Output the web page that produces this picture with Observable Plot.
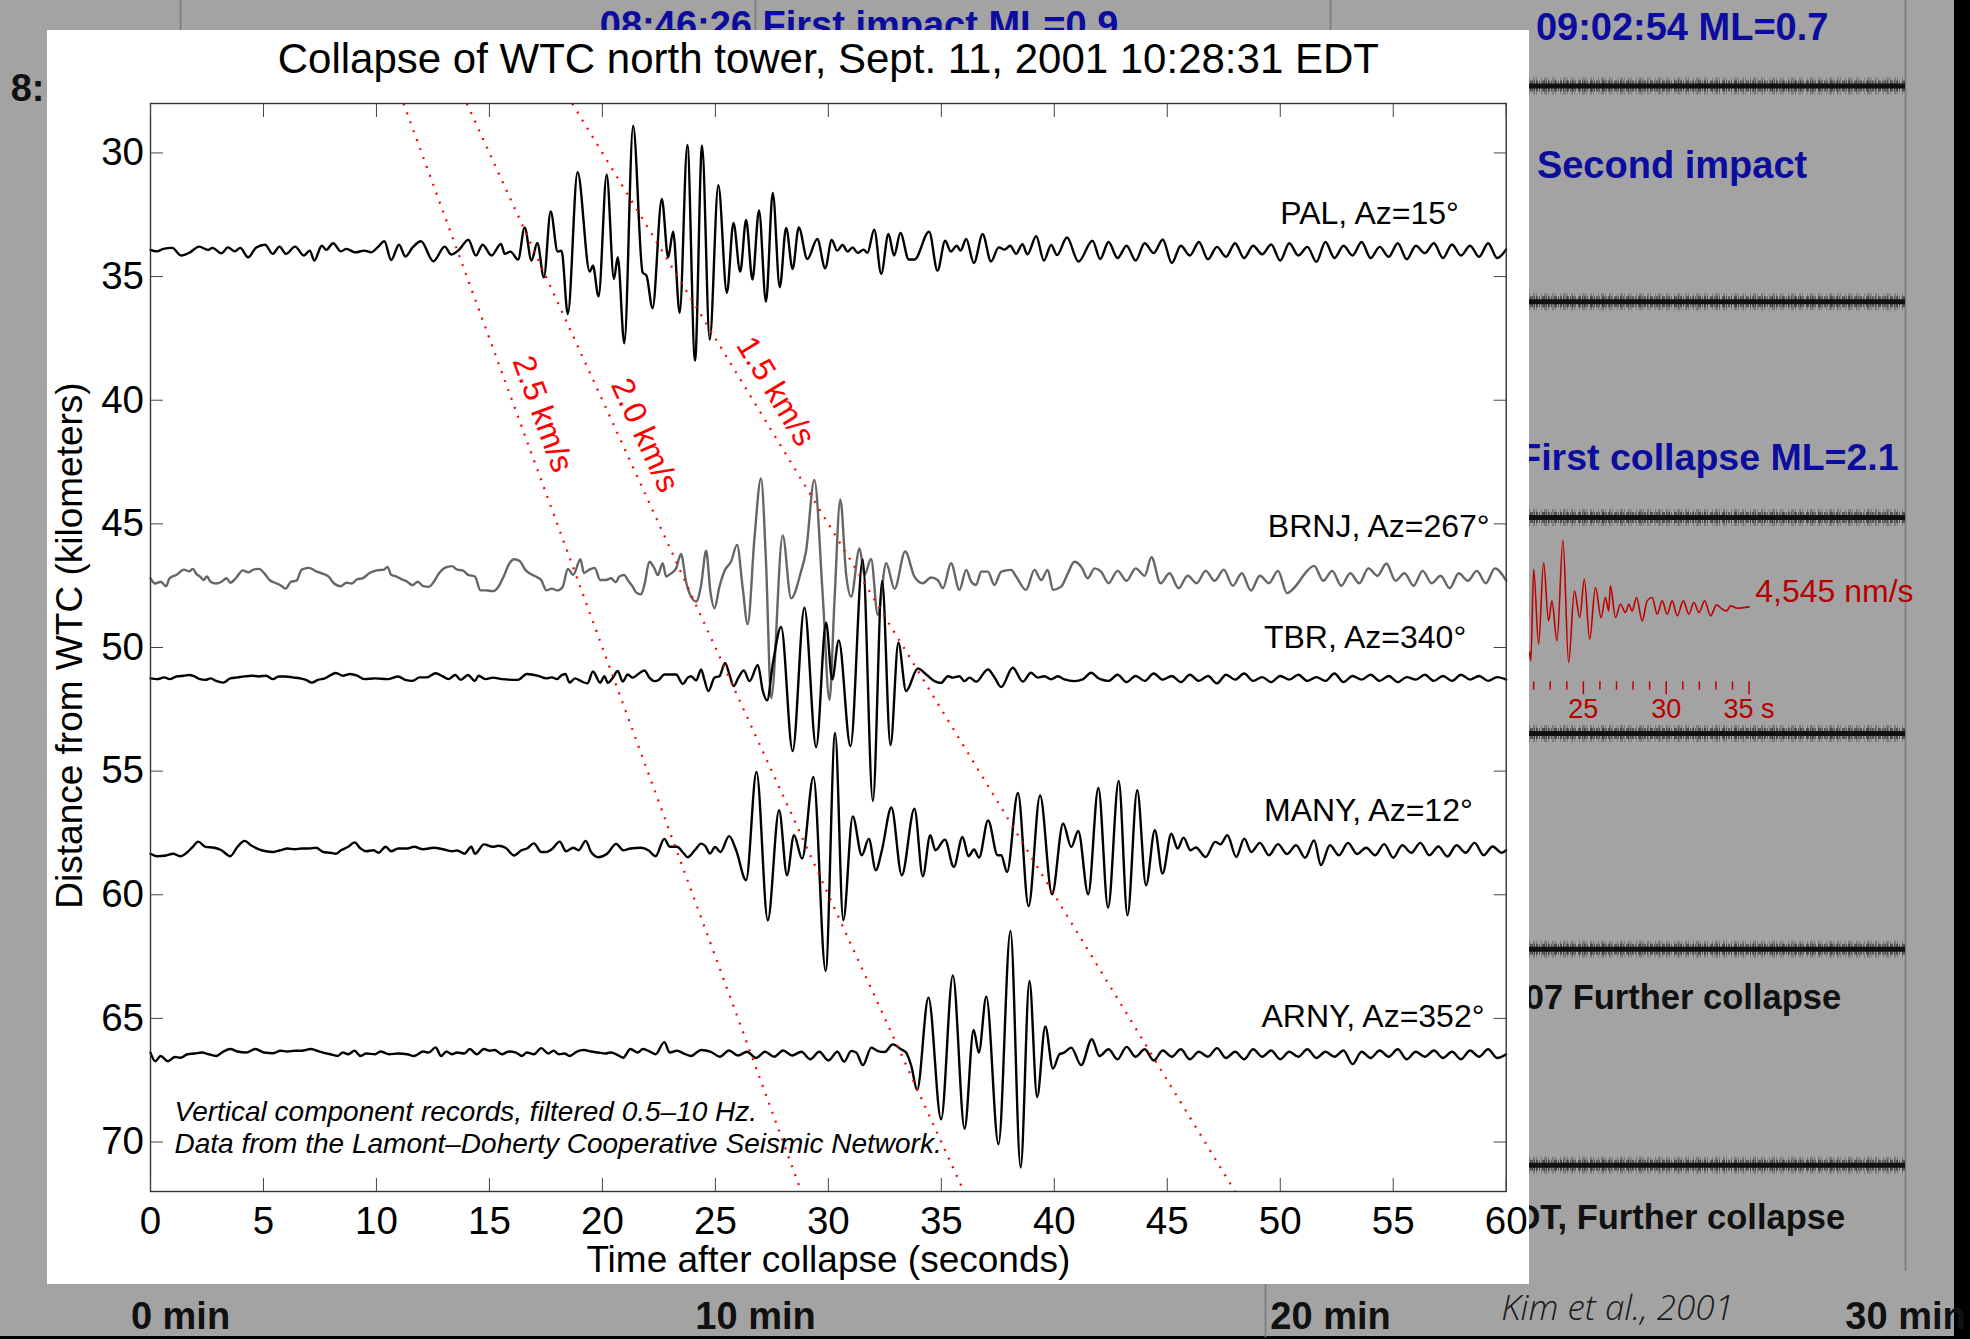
<!DOCTYPE html>
<html><head><meta charset="utf-8">
<script src="https://cdn.jsdelivr.net/npm/d3@7"></script>
<script src="https://cdn.jsdelivr.net/npm/@observablehq/plot@0.6"></script>
<style>
html,body{margin:0;padding:0;background:#000;}
#stage{position:relative;width:1970px;height:1339px;background:#000;overflow:hidden;}
#stage svg{position:absolute;display:block;}
</style></head><body><div id="stage"></div>
<script>
// ---------------- data ----------------
const stations = ["PAL", "BRNJ", "TBR", "MANY", "ARNY"];
const azimuths = [15, 267, 340, 12, 352];
const baseKm = [33.95, 47.2, 51.25, 58.2, 66.45];
const labelT = [50.0, 49.45, 49.28, 49.28, 49.17];
const labelKm = [32.44, 45.13, 49.6, 56.6, 64.93];

const velocities = [2.5, 2.0, 1.5];
const velDistRange = [28, 72];
const velLabelKm = [40.56, 41.42, 39.64];

const xTicks = [0, 5, 10, 15, 20, 25, 30, 35, 40, 45, 50, 55, 60];
const yTicks = [30, 35, 40, 45, 50, 55, 60, 65, 70];

const titleText = "Collapse of WTC north tower, Sept. 11, 2001 10:28:31 EDT";
const xLabel = "Time after collapse (seconds)";
const yLabel = "Distance from WTC (kilometers)";
const noteText = "Vertical component records, filtered 0.5\u201310 Hz.\nData from the Lamont\u2013Doherty Cooperative Seismic Network.";

// traces: [time s, amplitude km (up = toward smaller distance)]
const palTrace = [[0,0.03],[0.27,-0.03],[0.57,0.07],[0.96,0.11],[1.36,-0.2],[1.75,-0.07],[2.15,0.16],[2.54,0.03],[2.74,0.11],[3.14,-0.11],[3.43,0.13],[3.73,-0.03],[3.97,0.11],[4.32,-0.27],[4.68,0.13],[5.07,0.24],[5.41,-0.13],[5.71,0.16],[6.0,-0.13],[6.4,0.16],[6.79,-0.2],[7.05,0],[7.25,-0.4],[7.58,0.2],[7.78,0.03],[8.08,0.3],[8.43,-0.03],[8.67,0.07],[9.07,-0.07],[9.46,0],[9.76,-0.07],[10.05,0.13],[10.35,0.38],[10.65,-0.38],[11.0,0.24],[11.28,-0.24],[11.6,0.13],[11.97,0.38],[12.52,-0.43],[13.02,0.16],[13.31,-0.16],[13.65,0.03],[14.07,0.44],[14.4,-0.2],[14.7,0.24],[15.09,-0.2],
[15.51,0.27],[15.68,-0.13],[15.93,-0.04],[16.27,-0.36],[16.56,0.94],[16.86,-0.4],[17.12,0.31],[17.41,-1.08],[17.71,1.58],[18.02,-0.04],[18.19,0],[18.47,-2.56],[18.9,3.17],[19.44,-0.85],[19.58,-0.61],[19.83,-1.85],[20.19,3.07],[20.51,-1.15],[20.68,-0.27],[20.97,-3.75],[21.36,5.05],[21.78,-0.88],[21.95,-1.01],[22.22,-2.33],[22.63,2.09],[22.91,-0.27],[23.13,0.77],[23.42,-2.52],[23.76,4.27],[24.1,-4.45],[24.41,4.25],[24.75,-3.6],[25.13,2.65],[25.51,-1.71],[25.8,1.12],[26.1,-0.85],[26.36,1.24],[26.64,-1.17],[26.93,1.62],[27.24,-2.06],[27.54,2.33],[27.85,-1.48],[28.13,0.92],[28.42,-0.74],[28.69,0.94],[29.07,-0.34],[29.51,0.47],[29.86,-0.71],[30.15,0.43],[30.39,0],[30.63,0.23],[30.85,-0.04],[31.07,0.13],[31.3,-0.09],[31.56,0.04],[31.73,-0.09],[32.03,0.85],[32.34,-0.94],[32.66,0.67],[32.91,-0.2],[33.19,0.71],[33.56,-0.36],[33.81,-0.36],[34.46,0.77],[34.83,-0.81],[35.17,0.4],[35.42,-0.04],[35.68,0.2],[35.85,0],[36.1,0.47],[36.44,-0.5],[36.83,0.66],[37.2,-0.44],[37.54,0.13],[37.8,0.04],[38.05,0.2],[38.31,-0.13],[38.59,0.26],[38.81,-0.15],[39.2,0.58],[39.54,-0.4],[39.86,0.23],[40.12,-0.18],[40.56,0.53],[41.07,-0.44],[41.69,0.4],[42.03,-0.34],
[42.4,0.35],[42.8,-0.3],[43.2,0.2],[43.6,-0.4],[44.0,0.3],[44.4,-0.1],[44.8,0.45],[45.2,-0.5],[45.6,0.2],[46.0,-0.2],[46.4,0.35],[46.8,-0.35],[47.2,0.15],[47.6,-0.25],[48.0,0.3],[48.4,-0.3],[48.8,0.2],[49.2,-0.15],[49.6,0.25],[50.0,-0.4],[50.4,0.3],[50.8,-0.2],[51.2,0.15],[51.6,-0.45],[52.0,0.35],[52.4,-0.3],[52.8,0.2],[53.2,-0.2],[53.6,0.35],[54.0,-0.3],[54.4,0.15],[54.8,-0.25],[55.2,0.3],[55.6,-0.35],[56.0,0.2],[56.4,-0.1],[56.8,0.3],[57.2,-0.3],[57.6,0.25],[58.0,-0.2],[58.4,0.2],[58.8,-0.25],[59.2,0.3],[59.6,-0.3],[60,0.05]];

const brnjTrace = [[0,0],[0.21,-0.21],[0.45,-0.14],[0.69,-0.32],[0.84,0],[1.16,0.14],[1.48,0.35],[1.71,0.28],[1.87,0.38],[2.03,0.18],[2.19,0.07],[2.35,-0.07],[2.5,0.07],[2.66,-0.14],[2.9,-0.21],[3.14,-0.14],[3.37,0],[3.53,-0.18],[3.77,0],[4.09,0.32],[4.32,0.24],[4.56,0.35],[4.8,0.38],[5.03,0.21],[5.27,-0.07],[5.51,-0.18],[5.75,-0.28],[5.98,-0.42],[6.22,-0.14],[6.46,-0.1],[6.69,0.35],[7.01,0.42],[7.33,0.28],[7.64,0.18],[7.88,0.07],[8.12,-0.21],[8.43,-0.32],[8.67,-0.18],[8.91,-0.21],[9.15,-0.04],[9.38,0],[9.7,0.21],[10.01,0.32],[10.33,0.35],[10.49,0.46],[10.65,0.14],[10.88,0.07],[11.12,-0.04],[11.36,-0.14],[11.6,-0.28],[11.83,-0.14],[12.07,-0.32],[12.31,-0.35],[12.54,-0.14],[12.78,0.21],[13.02,0.42],[13.34,0.49],[13.57,0.35],[13.81,0.32],[14.05,0.14],[14.36,0.07],[14.6,-0.49],[14.84,-0.49],[15.15,-0.52],[15.39,-0.35],[15.63,0.07],[15.86,0.56],[16.1,0.77],[16.34,0.7],[16.58,0.35],[16.81,0.18],[17.05,0.07],[17.29,-0.07],[17.52,-0.49],[17.76,-0.42],[18.0,-0.49],[18.24,-0.35],[18.47,0.38],[18.71,0.14],[19.03,0.77],[19.18,0.21],[19.42,0.35],[19.66,0.42],[19.9,-0.07],
[20.16,-0.07],[20.38,0],[20.6,-0.16],[20.75,0.07],[20.97,0.13],[21.12,-0.07],[21.34,-0.34],[21.49,-0.57],[21.71,-0.65],[21.86,-0.27],[22.08,0.67],[22.3,0.4],[22.45,0.13],[22.67,0.61],[22.82,0.07],[23.04,0.2],[23.26,0.4],[23.48,0.98],[23.7,-0.13],[23.92,-0.74],[24.15,-0.94],[24.37,-0.27],[24.59,1.11],[24.78,-0.54],[24.96,-1.21],[25.18,-0.34],[25.43,0.34],[25.69,0.67],[25.96,1.35],[26.21,-0.4],[26.43,-1.86],[26.73,1.62],[27.02,4.04],[27.24,0.67],[27.47,-4.85],[27.98,1.73],[28.35,-0.81],[28.79,0.27],[29.01,1.08],[29.38,3.98],[29.75,-0.67],[30.05,-4.92],[30.27,-0.94],[30.53,3.19],[30.79,0.13],[31.01,-0.74],[31.38,1.21],[31.6,0.13],[31.89,0.78],[32.19,-1.48],[32.56,0.61],[32.93,-0.43],[33.4,1.08],[33.81,0.07],[34.18,-0.2],[34.55,0.03],[34.84,-0.07],[35.07,-0.4],[35.43,0.61],[35.8,-0.47],[36.1,0.34],[36.32,-0.13],[36.54,-0.27],[36.76,0.27],[37.06,0.27],[37.35,-0.27],[37.65,0.27],[38.09,0.34],[38.31,0.07],[38.75,-0.47],[39.12,0.34],[39.42,-0.07],[39.71,0.34],[39.94,-0.47],[40.3,-0.34],[40.6,0.2],[40.89,0.67],[41.19,0.47],[41.48,0],[41.78,0.4],[42.07,0.27],
[42.4,-0.2],[42.8,0.3],[43.2,-0.1],[43.6,0.4],[44.0,0.1],[44.3,0.85],[44.7,-0.2],[45.1,0.2],[45.5,-0.4],[45.9,0.1],[46.3,-0.2],[46.7,0.3],[47.1,-0.1],[47.5,0.35],[47.9,-0.3],[48.3,0.2],[48.7,-0.5],[49.1,0.1],[49.5,-0.2],[49.9,0.3],[50.3,-0.6],[50.7,-0.3],[51.1,0.2],[51.5,0.5],[51.9,-0.1],[52.3,0.3],[52.7,-0.3],[53.1,0.2],[53.5,-0.2],[53.9,0.4],[54.3,0.1],[54.7,0.6],[55.1,-0.1],[55.5,0.2],[55.9,-0.3],[56.3,0.3],[56.7,-0.2],[57.1,0.1],[57.5,-0.4],[57.9,0.2],[58.3,-0.1],[58.7,0.3],[59.1,-0.2],[59.5,0.4],[60,-0.1]];

const tbrTrace = [[0,0],[0.29,-0.03],[0.61,0.04],[0.84,-0.03],[1.16,0.08],[1.48,0.11],[1.71,0.14],[1.95,0.08],[2.19,-0.03],[2.43,-0.06],[2.66,0],[2.9,-0.1],[3.22,-0.17],[3.53,0],[3.85,0.04],[4.16,0.08],[4.48,0.11],[4.8,0.08],[5.11,0.11],[5.43,-0.03],[5.67,0.08],[5.98,0.08],[6.3,0.04],[6.62,0],[6.88,-0.06],[7.14,-0.17],[7.41,-0.06],[7.72,0],[8.2,0.22],[8.51,0.11],[8.83,0.18],[9.15,0.11],[9.46,-0.03],[9.94,0],[10.49,-0.03],[10.96,0.08],[11.28,-0.06],[11.6,-0.1],[11.91,0.04],[12.23,0.04],[12.62,0.21],[12.94,0.08],[13.18,-0.03],[13.49,0.14],[13.73,-0.06],[14.05,0.14],[14.36,-0.1],[14.52,0.11],[14.84,-0.03],[15.15,0.03],[15.55,-0.03],[16.26,-0.06],[16.66,0.18],[17.13,0.11],[17.52,0],[17.76,0.04],[18.0,-0.03],[18.16,0.11],[18.36,0.18],[18.55,-0.17],[18.79,0],[19.03,-0.1],[19.34,-0.2],[19.58,0.28],[19.9,-0.17],
[20.09,0.09],[20.24,-0.18],[20.46,0.03],[20.68,0.3],[20.9,-0.13],[21.12,0.16],[21.34,0.03],[21.56,0.16],[21.86,0.32],[22.08,0.03],[22.3,-0.11],[22.52,-0.04],[22.74,0.16],[23.04,0.16],[23.26,0.16],[23.56,-0.22],[23.78,0.03],[23.92,0.09],[24.15,-0.08],[24.37,0.36],[24.51,-0.04],[24.69,-0.51],[24.96,0.03],[25.18,0.09],[25.43,0.63],[25.62,0.16],[25.81,-0.31],[26.02,0.03],[26.26,0.32],[26.51,-0.11],[26.88,0.54],[27.1,-0.51],[27.29,-0.89],[27.54,0.57],[27.91,2.08],[28.42,-2.94],[28.94,2.86],[29.46,-2.78],[29.9,2.25],[30.17,-0.04],[30.46,1.54],[30.98,-2.74],[31.52,4.81],[31.97,-4.96],[32.38,3.94],[32.75,-2.7],[33.1,1.44],[33.44,-0.51],[33.96,0.4],[34.33,0.16],[34.7,-0.11],[34.99,-0.18],[35.29,0.09],[35.51,0.03],[35.8,0.09],[36.02,-0.11],[36.25,0.03],[36.54,-0.13],[37.06,0.36],[37.35,0.05],[37.65,-0.35],[38.16,0.43],[38.61,-0.13],[38.97,0.23],[39.27,0.03],[39.56,0.09],[39.86,-0.04],[40.16,0.09],[40.45,-0.04],[40.89,-0.11],[41.26,-0.04],[41.63,0.23],[41.92,0.03],[42.07,-0.04],
[42.4,-0.1],[42.8,0.15],[43.2,-0.15],[43.6,0.1],[44.0,-0.1],[44.4,0.2],[44.8,-0.05],[45.2,0.1],[45.6,-0.15],[46.0,0.15],[46.4,-0.1],[46.8,0.1],[47.2,-0.2],[47.6,0.15],[48.0,-0.05],[48.4,0.2],[48.8,-0.1],[49.2,0.05],[49.6,-0.15],[50.0,0.1],[50.4,-0.05],[50.8,0.15],[51.2,-0.1],[51.6,0.05],[52.0,-0.1],[52.4,0.2],[52.8,-0.15],[53.2,0.1],[53.6,-0.05],[54.0,0.15],[54.4,-0.1],[54.8,0.1],[55.2,-0.15],[55.6,0.05],[56.0,-0.05],[56.4,0.15],[56.8,-0.1],[57.2,0.1],[57.6,-0.1],[58.0,0.15],[58.4,-0.05],[58.8,0.1],[59.2,-0.1],[59.6,0.05],[60,-0.05]];

const manyTrace = [[0,-0.14],[0.29,-0.24],[0.69,-0.21],[1.0,-0.14],[1.32,-0.24],[1.64,-0.07],[1.87,0.14],[2.11,0.35],[2.43,0.14],[2.82,0.1],[3.14,0],[3.53,-0.24],[3.85,0.14],[4.16,0.38],[4.48,0.18],[4.8,0.04],[5.11,-0.04],[5.43,-0.07],[5.75,0],[6.06,0.07],[6.38,0.04],[6.69,0.07],[7.01,0.07],[7.33,0.1],[7.64,-0.07],[7.96,-0.1],[8.2,-0.14],[8.43,0],[8.75,0.14],[9.03,0.32],[9.3,0.07],[9.54,-0.04],[9.86,0],[10.09,-0.1],[10.41,0.14],[10.65,-0.04],[10.96,0.07],[11.36,0.07],[11.67,0.14],[12.07,0.04],[12.54,0.1],[12.94,0.04],[13.34,-0.04],[13.57,-0.01],[13.89,-0.14],[14.2,0.14],[14.36,-0.14],[14.76,0.24],[15.15,0.14],[15.39,0.18],[15.71,0.1],[16.1,-0.21],[16.42,0],[16.66,0.07],[16.97,0.28],[17.29,-0.07],[17.52,-0.07],[17.76,0.04],[18.11,0.35],[18.39,-0.04],[18.71,0.1],[18.95,0],[19.26,0.38],[19.5,-0.07],[19.82,-0.28],[20.21,-0.14],[20.61,0.26],[20.92,0],[21.24,0.07],[21.71,0.1],[22.03,0],[22.35,-0.24],[22.74,0.46],[22.98,0.14],[23.3,0.14],[23.61,-0.14],[23.77,-0.28],[24.09,0],
[24.37,0.27],[24.56,0.16],[24.76,-0.13],[24.99,0.13],[25.22,-0.07],[25.61,0.57],[25.92,0],[26.36,-1.21],[26.82,3.17],[27.32,-2.83],[27.82,1.62],[28.17,-1.01],[28.48,0.61],[28.84,-0.34],[29.34,2.96],[29.88,-4.88],[30.3,4.74],[30.66,-2.83],[31.08,1.37],[31.48,-0.2],[31.79,0.46],[32.1,-0.81],[32.37,0],[32.79,1.73],[33.25,-1.01],[33.81,1.68],[34.18,-1.05],[34.51,0.61],[34.74,0],[35.16,0.43],[35.55,-0.67],[35.94,0.54],[36.2,-0.24],[36.45,0.03],[36.67,-0.3],[37.07,1.21],[37.49,-0.2],[37.65,-0.2],[37.91,-0.88],[38.39,2.32],[38.86,-2.26],[39.37,2.22],[39.9,-1.78],[40.39,1.08],[40.75,0.13],[41.06,0.78],[41.5,-1.78],[41.95,2.52],[42.38,-2.32],[42.85,2.8],[43.24,-2.63],[43.67,2.43],[44.06,-1.42],[44.45,0.81],[44.79,-0.94],[45.18,0.67],[45.46,0.07],[45.72,0.51],[46.03,0],[46.26,0.11],[46.7,-0.27],[47.12,0.34],[47.35,0.24],[47.66,0.61],[48.05,-0.27],[48.41,0.47],[48.72,-0.07],
[49.1,0.3],[49.5,-0.2],[49.9,0.25],[50.3,-0.15],[50.7,0.2],[51.1,-0.3],[51.5,0.4],[51.8,-0.6],[52.2,0.2],[52.6,-0.2],[53.0,0.3],[53.4,-0.15],[53.8,0.1],[54.2,-0.2],[54.6,0.25],[55.0,-0.3],[55.4,0.2],[55.8,-0.1],[56.2,0.3],[56.6,-0.2],[57.0,0.15],[57.4,-0.25],[57.8,0.2],[58.2,-0.1],[58.6,0.3],[59.0,-0.2],[59.4,0.15],[59.8,-0.1],[60,0]];

const arnyTrace = [[0,0.07],[0.21,-0.28],[0.45,-0.07],[0.77,-0.28],[1.08,-0.11],[1.32,-0.14],[1.64,0],[1.95,0.03],[2.27,0.07],[2.58,0],[2.9,-0.07],[3.22,0.11],[3.53,0.21],[3.85,0.11],[4.24,0.07],[4.64,0.21],[5.03,0.07],[5.43,0.04],[5.75,0.14],[6.06,0.11],[6.38,0.14],[6.69,0.14],[7.09,0.21],[7.49,0.11],[7.96,0],[8.28,-0.07],[8.51,0.07],[8.75,0],[9.03,0.14],[9.3,-0.07],[9.54,0.03],[9.94,0],[10.17,0.11],[10.57,0],[10.96,0.03],[11.36,0],[11.67,-0.07],[12.07,0.11],[12.31,0.07],[12.62,0.28],[12.86,-0.07],[13.1,0.11],[13.34,0],[13.57,0.07],[13.89,0.03],[14.13,0.21],[14.44,0],[14.76,0.21],[15.0,0.14],[15.23,0.17],[15.55,0],[15.86,0.11],[16.18,0.07],[16.42,-0.07],[16.66,0.07],[16.97,0],[17.29,0.25],[17.6,0.03],[17.84,0.14],[18.08,0],[18.32,0.03],[18.55,-0.07],[18.87,0.11],[19.18,0.17],[19.5,0.11],[19.82,0.07],[20.13,0.03],[20.37,0.07],[20.61,0],[20.92,-0.14],[21.24,0.21],[21.56,0.07],[21.79,0.21],[22.03,0.14],[22.35,0],[22.74,0.49],[22.98,0.07],[23.3,0.14],[23.61,0.03],[23.93,-0.07],[24.17,0.07],[24.37,0.17],
[24.8,0.1],[25.2,-0.1],[25.6,0.15],[26.0,-0.05],[26.4,0.1],[26.8,-0.15],[27.2,0.1],[27.6,-0.1],[28.0,0.15],[28.4,-0.05],[28.8,0.1],[29.2,-0.2],[29.6,0.1],[30.0,-0.25],[30.4,0.1],[30.7,-0.3],
[31.01,0.13],[31.23,0.07],[31.53,-0.44],[31.9,0.27],[32.19,0.13],[32.49,0.09],[32.85,0.4],[33.22,0.2],[33.44,0.07],[33.67,-0.47],[33.93,-1.44],[34.43,2.29],[34.99,-2.63],[35.51,3.19],[36.03,-3.01],[36.43,0.98],[36.66,0.07],[36.99,2.33],[37.53,-3.64],[38.06,4.99],[38.51,-4.58],[38.9,2.96],[39.24,-1.73],[39.6,1.12],[39.94,-0.58],[40.23,0],[40.45,0.07],[40.75,0.27],[41.19,-0.44],[41.66,0.61],[42.0,-0.07],
[42.4,0.2],[42.8,-0.2],[43.2,0.3],[43.6,-0.1],[44.0,0.2],[44.4,-0.25],[44.8,0.15],[45.2,-0.1],[45.6,0.2],[46.0,-0.2],[46.4,0.1],[46.8,-0.1],[47.2,0.25],[47.6,-0.15],[48.0,0.1],[48.4,-0.2],[48.8,0.2],[49.2,-0.1],[49.6,0.15],[50.0,-0.2],[50.4,0.1],[50.8,-0.1],[51.2,0.2],[51.6,-0.15],[52.0,0.1],[52.4,-0.1],[52.8,0.15],[53.2,-0.4],[53.6,0.1],[54.0,-0.15],[54.4,0.15],[54.8,-0.1],[55.2,0.2],[55.6,-0.2],[56.0,0.1],[56.4,-0.1],[56.8,0.15],[57.2,-0.15],[57.6,0.1],[58.0,-0.2],[58.4,0.15],[58.8,-0.1],[59.2,0.2],[59.6,-0.15],[60,0]];

const traces = [palTrace, brnjTrace, tbrTrace, manyTrace, arnyTrace];

// background helicorder (minutes across, hour rows down)
const heliRows = [0, 1, 2, 3, 4, 5];
const heliMinuteTicks = [0, 10, 20, 30];
const heliExtraGrid = [18.87];
const blueNotes = ["08:46:26 First impact ML=0.9", "09:02:54 ML=0.7", "Second impact", "First collapse ML=2.1"];
const blueNoteMin = [16.31, 28.66, 28.29, 29.88];
const blueNoteRow = [-0.28, -0.268, 0.372, 1.722];
const blackNotes = ["8:", "07 Further collapse", "DT, Further collapse"];
const blackNoteMin = [-2.365, 28.88, 28.95];
const blackNoteRow = [0.012, 4.225, 5.244];
const creditText = "Kim et al., 2001";

// red inset waveform: [time s, ground velocity nm/s]
const redTrace = [[21.75,-3000],[21.83,-3600],[22.0,2588],[22.3,-2475],[22.6,3038],[22.9,-900],[23.1,450],[23.41,-2250],[23.77,4545],[24.11,-3713],[24.46,1125],[24.78,-675],[25.06,1913],[25.38,-2138],[25.73,1350],[26.07,-675],[26.33,675],[26.53,-225],[26.63,1463],[26.94,-675],[27.24,225],[27.54,-338],[27.74,225],[27.94,-225],[28.21,675],[28.55,-900],[28.85,450],[29.15,675],[29.46,-450],[29.76,450],[30.06,-450],[30.36,450],[30.67,-563],[31.03,450],[31.37,-450],[31.67,338],[31.98,-338],[32.32,450],[32.68,-563],[33.04,180],[33.39,-113],[33.65,-225],[33.89,113],[34.29,-45],[35.0,45]];
const insetSeconds = [22, 23, 24, 25, 26, 27, 28, 29, 30, 31, 32, 33, 34, 35];
const insetMajor = [25, 30, 35];
const insetLabels = ["25", "30", "35 s"];
const peakLabel = "4,545 nm/s";

// ---------------- drawing ----------------
const FONT = "'Liberation Sans', Arial, Helvetica, sans-serif";
const stage = document.getElementById("stage");
const place = (svg, left, top) => { svg.style.left = left + "px"; svg.style.top = top + "px"; stage.appendChild(svg); };

// background helicorder slide
const bg = Plot.plot({
  width: 1954, height: 1336,
  marginLeft: 180, marginRight: 49, marginTop: 85.4, marginBottom: 171.3,
  x: {domain: [0, 30], axis: null},
  y: {domain: [0, 5], reverse: true, axis: null},
  style: {background: "#a3a3a3", fontFamily: FONT, maxWidth: "none", overflow: "visible"},
  marks: [
    Plot.ruleX(heliMinuteTicks, {x: d => d, y1: -0.5, y2: 5.49, stroke: "#7a7a7a", strokeWidth: 1.6}),
    Plot.ruleX(heliExtraGrid, {x: d => d, y1: 5.49, y2: 5.8, stroke: "#7a7a7a", strokeWidth: 1.6}),
    Plot.ruleY(heliRows, {y: d => d, stroke: "#333", strokeWidth: 17, strokeOpacity: 0.35, strokeDasharray: "1 3 2 1 1 4 1 2 3 1"}),
    Plot.ruleY(heliRows, {y: d => d, stroke: "#1a1a1a", strokeWidth: 11, strokeOpacity: 0.55, strokeDasharray: "2 1 1 2 3 1 1 1"}),
    Plot.ruleY(heliRows, {y: d => d, stroke: "#111", strokeWidth: 5}),
    Plot.text(blueNotes, {x: (d, i) => blueNoteMin[i], y: (d, i) => blueNoteRow[i], text: d => d, textAnchor: "end", fontSize: (d, i) => i === 3 ? 37.5 : 38, fontWeight: "bold", fill: "#0c0c9e"}),
    Plot.text(blackNotes, {x: (d, i) => blackNoteMin[i], y: (d, i) => blackNoteRow[i], text: d => d, textAnchor: "end", fontSize: (d, i) => i === 0 ? 38 : 34.5, fontWeight: "bold", fill: "#111"}),
    Plot.text(heliMinuteTicks, {x: d => d, y: 5.703, text: d => `${d} min`, fontSize: 38, fontWeight: "bold", fill: "#111"}),
    Plot.text([creditText], {x: 22.97, y: 5.663, text: d => d, textAnchor: "start", fontSize: 35, fontStyle: "italic", fontWeight: 300, fontFamily: "'Open Sans', Lato, sans-serif", fill: "#1a1a1a"})
  ]
});
place(bg, 0, 0);

// red inset (ground velocity at one station)
const inset = Plot.plot({
  width: 401.8, height: 192.5, margin: 0,
  x: {domain: [21.75, 46], axis: null},
  y: {domain: [-8000, 5000], axis: null},
  style: {background: "transparent", fontFamily: FONT, maxWidth: "none", overflow: "visible"},
  marks: [
    Plot.line(redTrace, {x: d => d[0], y: d => d[1], stroke: "#c00000", strokeWidth: 1.6, curve: "monotone-x"}),
    Plot.ruleX(insetSeconds, {x: d => d, y1: -5017, y2: d => insetMajor.includes(d) ? -5895 : -5577, stroke: "#c00000", strokeWidth: 1.5}),
    Plot.text(insetMajor, {x: d => d, y: -6846, text: (d, i) => insetLabels[i], fontSize: 27, fill: "#b80000"}),
    Plot.text([peakLabel], {x: 35.38, y: 1080, text: d => d, textAnchor: "start", fontSize: 32, fill: "#b80000"})
  ]
});
place(inset, 1529.1, 532.6);

// main record section
const W = 1482.5, H = 1254, ML = 103, MR = 23.8, MT = 73, MB = 93;
const pxPerSec = (W - ML - MR) / 60, pxPerKm = (H - MT - MB) / 44;
const velMarks = velocities.map((v, i) => {
  const ang = Math.atan2(pxPerKm, pxPerSec / v);
  return Plot.text([v], {
    x: d => velLabelKm[i] / d, y: velLabelKm[i], text: d => d.toFixed(1) + " km/s",
    rotate: ang * 180 / Math.PI, dx: 24 / Math.sin(ang), fontSize: 32, fill: "#ff0000"
  });
});

const main = Plot.plot({
  width: W, height: H,
  marginLeft: ML, marginRight: MR, marginTop: MT, marginBottom: MB,
  x: {domain: [0, 60], label: null},
  y: {domain: [28, 72], reverse: true, label: null},
  style: {background: "#fff", fontFamily: FONT, color: "#000", maxWidth: "none", overflow: "visible"},
  marks: [
    ...stations.map((s, i) => Plot.line(traces[i], {
      x: d => d[0], y: d => baseKm[i] - d[1],
      stroke: s === "BRNJ" ? "#666" : "#000", strokeWidth: 2.4, curve: "monotone-x"
    })),
    Plot.link(velocities, {
      x1: v => velDistRange[0] / v, y1: velDistRange[0],
      x2: v => velDistRange[1] / v, y2: velDistRange[1],
      stroke: "#ff0000", strokeWidth: 2.2, strokeDasharray: "2,7.5"
    }),
    ...velMarks,
    Plot.text(stations, {x: (d, i) => labelT[i], y: (d, i) => labelKm[i], text: (d, i) => `${d}, Az=${azimuths[i]}\u00b0`, textAnchor: "start", fontSize: 32}),
    Plot.text([noteText], {frameAnchor: "bottom-left", dx: 24, dy: -64.7, lineAnchor: "middle", lineHeight: 1.12, textAnchor: "start", fontSize: 28, fontStyle: "italic"}),
    Plot.frame({stroke: "#333", strokeWidth: 1.4}),
    Plot.axisX(xTicks, {anchor: "bottom", tickSize: -13, tickFormat: () => "", stroke: "#444", label: null}),
    Plot.axisX(xTicks, {anchor: "top", tickSize: -13, tickFormat: () => "", stroke: "#444", label: null}),
    Plot.axisY(yTicks, {anchor: "left", tickSize: -13, tickFormat: () => "", stroke: "#444", label: null}),
    Plot.axisY(yTicks, {anchor: "right", tickSize: -13, tickFormat: () => "", stroke: "#444", label: null}),
    Plot.axisX(xTicks, {anchor: "bottom", tickSize: 0, tickPadding: 15.4, fontSize: 38.5, label: null}),
    Plot.axisY(yTicks, {anchor: "left", tickSize: 0, tickPadding: 6.5, fontSize: 38.5, label: null}),
    Plot.text([titleText], {frameAnchor: "top", dy: -44, lineAnchor: "middle", fontSize: 42}),
    Plot.text([xLabel], {frameAnchor: "bottom", dy: 69, lineAnchor: "middle", fontSize: 37}),
    Plot.text([yLabel], {frameAnchor: "left", dx: -80.5, dy: -2, rotate: -90, textAnchor: "middle", lineAnchor: "middle", fontSize: 37})
  ]
});
place(main, 46.5, 30.15);
</script></body></html>
